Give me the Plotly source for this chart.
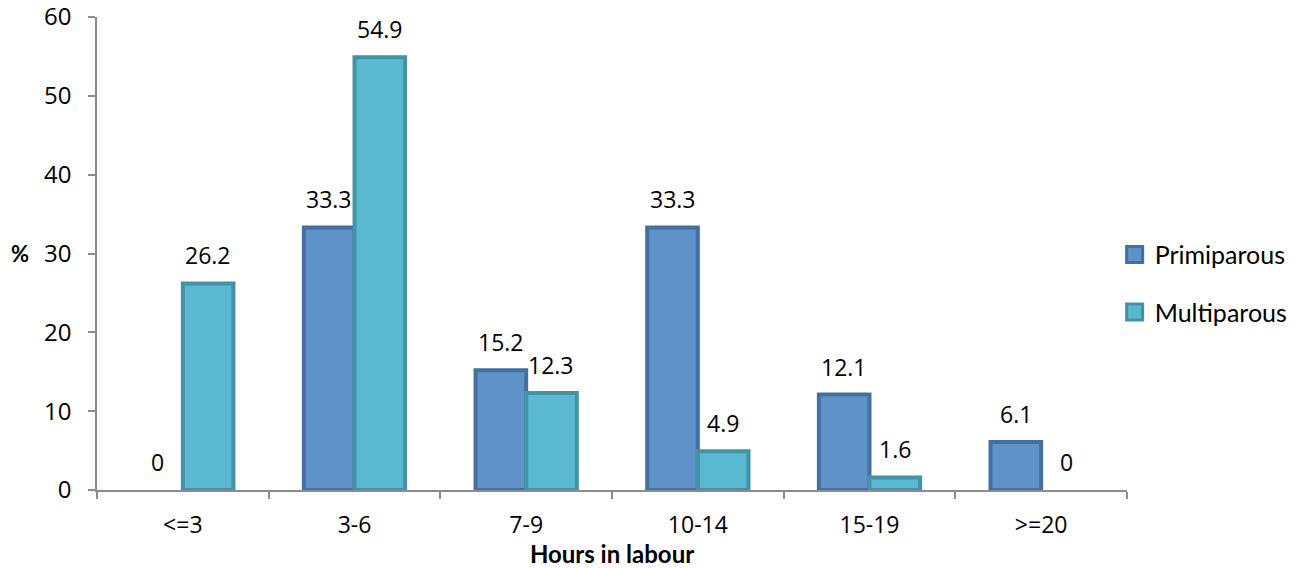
import plotly.graph_objects as go

categories = ["<=3", "3-6", "7-9", "10-14", "15-19", ">=20"]
primiparous = [0, 33.3, 15.2, 33.3, 12.1, 6.1]
multiparous = [26.2, 54.9, 12.3, 4.9, 1.6, 0]
y_ticks = [0, 10, 20, 30, 40, 50, 60]

BARGAP = 0.41
half_w = (1 - BARGAP) / 2
NUM_FONT = "Open Sans"

series = [
    ("Primiparous", primiparous, "#5f92c8", "#44709f"),
    ("Multiparous", multiparous, "#5bb8d1", "#4392a5"),
]


def outline_widths(values):
    # empty categories get no visible outline
    return [4 if v > 0 else 0 for v in values]


fig = go.Figure()
for name, values, fill, edge in series:
    fig.add_trace(go.Bar(
        name=name, x=categories, y=values, showlegend=False,
        marker=dict(color=fill, line=dict(color=edge, width=outline_widths(values))),
    ))
# larger square swatches for the legend
for name, values, fill, edge in series:
    fig.add_trace(go.Scatter(
        name=name, x=[None], y=[None], mode="markers", legendgroup=name,
        marker=dict(symbol="square", size=16, color=fill,
                    line=dict(color=edge, width=3)),
    ))

# value labels above each bar
annotations = []
for i, (p, m) in enumerate(zip(primiparous, multiparous)):
    for val, off in ((p, -half_w / 2), (m, half_w / 2)):
        annotations.append(dict(
            x=i + off, y=val, xref="x", yref="y", text=f"{val:g}",
            showarrow=False, yanchor="bottom", yshift=10,
            font=dict(family=NUM_FONT, size=23, color="#000000"),
        ))

fig.update_layout(
    width=1300, height=568,
    margin=dict(l=97, r=173, t=17, b=78, autoexpand=False),
    paper_bgcolor="white", plot_bgcolor="white",
    barmode="group", bargap=BARGAP, bargroupgap=0,
    font=dict(family=NUM_FONT, size=23, color="#000000"),
    annotations=annotations,
    legend=dict(
        x=0.988, y=0.437, xanchor="left", yanchor="middle",
        font=dict(family="Lato", size=25, color="#000000"),
        tracegroupgap=22, traceorder="grouped", itemsizing="trace",
    ),
    xaxis=dict(
        type="category", showline=True, linecolor="#8c8c8c", linewidth=1.5,
        ticks="outside", tickson="boundaries", ticklen=7, tickcolor="#8c8c8c",
        tickwidth=1.5, showgrid=False, ticklabelstandoff=14, automargin=False,
        tickfont=dict(family=NUM_FONT, size=23),
        title=dict(text="<b>Hours in labour</b>", standoff=0,
                   font=dict(family="Lato", size=24)),
    ),
    yaxis=dict(
        range=[0, 60], tickvals=y_ticks, showline=True, linecolor="#8c8c8c",
        linewidth=1.5, ticks="outside", ticklen=7, tickcolor="#8c8c8c",
        tickwidth=1.5, showgrid=False, zeroline=False, ticklabelstandoff=12,
        ticklabeloverflow="allow", automargin=False,
        tickfont=dict(family=NUM_FONT, size=24),
    ),
)

# horizontal "%" axis label
fig.add_annotation(
    x=0, y=30, xref="paper", yref="y", text="<b>%</b>", showarrow=False,
    xanchor="right", xshift=-66, font=dict(family="Lato", size=22),
)

fig.write_html("out.html")
